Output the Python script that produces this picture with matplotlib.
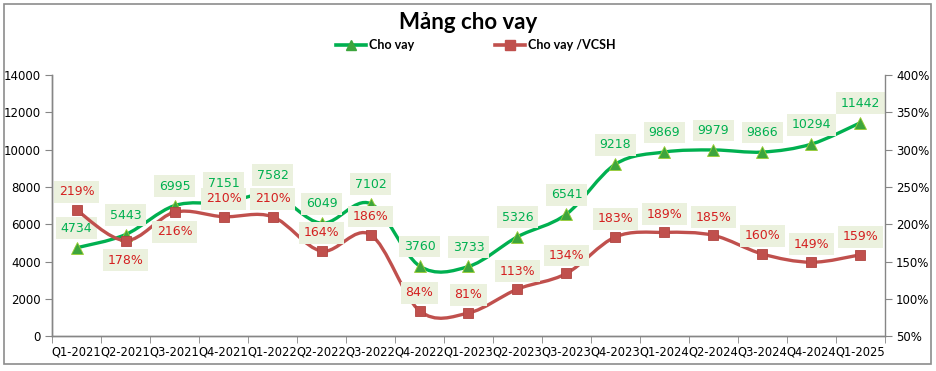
import matplotlib
matplotlib.use('Agg')
import matplotlib.pyplot as plt
from matplotlib.path import Path
from matplotlib.patches import PathPatch, Rectangle
from matplotlib.lines import Line2D
import numpy as np

# data
quarters = ['Q1-2021', 'Q2-2021', 'Q3-2021', 'Q4-2021', 'Q1-2022', 'Q2-2022',
            'Q3-2022', 'Q4-2022', 'Q1-2023', 'Q2-2023', 'Q3-2023', 'Q4-2023',
            'Q1-2024', 'Q2-2024', 'Q3-2024', 'Q4-2024', 'Q1-2025']
cho_vay = [4734, 5443, 6995, 7151, 7582, 6049, 7102, 3760, 3733, 5326,
           6541, 9218, 9869, 9979, 9866, 10294, 11442]
cho_vay_vcsh = [219, 178, 216, 210, 210, 164, 186, 84, 81, 113,
                134, 183, 189, 185, 160, 149, 159]
# which ratio labels sit under the point
vcsh_below = [1, 2]

GREEN = '#00B050'
RED = '#C0504D'
RED_TXT = '#D42020'
BOX = '#EBF1DE'
AXC = '#868686'


def smooth_path(xs, ys):
    # Excel-like smooth line: cubic bezier through the points
    pts = np.column_stack([xs, ys]).astype(float)
    n = len(pts)
    verts = [pts[0]]
    codes = [Path.MOVETO]
    for i in range(n - 1):
        p0 = pts[i - 1] if i > 0 else pts[i]
        p1 = pts[i]
        p2 = pts[i + 1]
        p3 = pts[i + 2] if i + 2 < n else pts[i + 1]
        c1 = p1 + (p2 - p0) / 6.0
        c2 = p2 - (p3 - p1) / 6.0
        verts += [c1, c2, p2]
        codes += [Path.CURVE4] * 3
    return Path(verts, codes)


fig = plt.figure(figsize=(9.37, 3.71), dpi=100)
ax1 = fig.add_axes([0.0555, 0.094, 0.889, 0.704])
ax2 = ax1.twinx()

x = np.arange(len(quarters))

# green series on left axis
ax1.add_patch(PathPatch(smooth_path(x, cho_vay), fill=False, edgecolor=GREEN,
                        lw=2.4, zorder=3, capstyle='round'))
ax1.plot(x, cho_vay, ls='none', marker='^', ms=8, color='#3DA53D',
         mec='#9ACD32', mew=0.6, zorder=4)

# red series on right axis
ax2.add_patch(PathPatch(smooth_path(x, cho_vay_vcsh), fill=False, edgecolor=RED,
                        lw=2.4, zorder=3, capstyle='round'))
ax2.plot(x, cho_vay_vcsh, ls='none', marker='s', ms=7.5, color=RED,
         mec='#B04440', mew=0.6, zorder=4)

ax1.set_xlim(-0.5, len(quarters) - 0.5)
ax1.set_ylim(0, 14000)
ax2.set_ylim(50, 400)
ax1.set_yticks(range(0, 14001, 2000))
ax2.set_yticks(range(50, 401, 50))
ax2.set_yticklabels([f'{v}%' for v in range(50, 401, 50)])

ax1.set_xticks(x)
ax1.set_xticklabels(quarters)
ax1.set_xticks(np.arange(-0.5, len(quarters), 1), minor=True)
ax1.tick_params(axis='x', which='major', length=0, pad=7, labelsize=8.3)
ax1.tick_params(axis='x', which='minor', length=5, color=AXC, direction='out')
ax1.tick_params(axis='y', length=5, color=AXC, labelsize=8.5, pad=3)
ax2.tick_params(axis='y', length=5, color=AXC, labelsize=8.5, pad=3)

for a in (ax1, ax2):
    a.spines['top'].set_visible(False)
    for s in ('left', 'right', 'bottom'):
        a.spines[s].set_color(AXC)
        a.spines[s].set_linewidth(1)
ax1.spines['right'].set_visible(False)

# data labels
for xi, v in zip(x, cho_vay):
    ax1.annotate(str(v), (xi, v), xytext=(0, 14), textcoords='offset points',
                 ha='center', va='center', color=GREEN, fontsize=9,
                 fontweight='medium', zorder=6,
                 bbox=dict(boxstyle='square,pad=0.35', fc=BOX, ec='none'))
for i, (xi, v) in enumerate(zip(x, cho_vay_vcsh)):
    dy = -14 if i in vcsh_below else 13
    ax2.annotate(f'{v}%', (xi, v), xytext=(0, dy), textcoords='offset points',
                 ha='center', va='center', color=RED_TXT, fontsize=9,
                 zorder=6,
                 bbox=dict(boxstyle='square,pad=0.35', fc=BOX, ec='none'))

fig.text(0.5, 0.94, 'Mảng cho vay', ha='center', va='center',
         fontsize=16, fontweight='bold', family='Lato')

handles = [Line2D([], [], color=GREEN, lw=2.6, marker='^', ms=7, mfc='#3DA53D', mec='#3DA53D'),
           Line2D([], [], color=RED, lw=2.6, marker='s', ms=6.5, mfc=RED, mec=RED)]
fig.legend(handles, ['Cho vay', 'Cho vay /VCSH'], loc='center',
           bbox_to_anchor=(0.508, 0.878), ncol=2, frameon=False,
           prop=dict(family='Lato', weight='bold', size=9),
           handlelength=2.4, handletextpad=0.2, columnspacing=6.5)

# outer chart border
fig.patches.append(Rectangle((0.004, 0.018), 0.99, 0.97, transform=fig.transFigure,
                             fill=False, ec='#8C8C8C', lw=1.2))

plt.savefig('out.png', dpi=100)
plt.close()
